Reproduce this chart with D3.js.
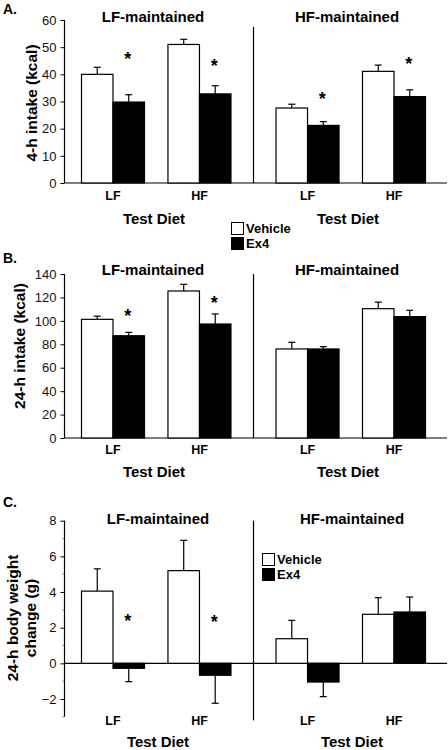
<!DOCTYPE html>
<html>
<head>
<meta charset="utf-8">
<script src="https://cdn.jsdelivr.net/npm/d3@7"></script>
<style>
  html, body { margin: 0; padding: 0; background: #fff; }
  svg { display: block; font-family: "Liberation Sans", Arial, sans-serif; }
</style>
</head>
<body>
<svg id="chart" width="448" height="750"></svg>
<script>
// ---------------- DATA ----------------
const maintenanceGroups = ["LF-maintained", "HF-maintained"];
const testDiets = ["LF", "HF", "LF", "HF"];           // test diet under each group
const seriesNames = ["Vehicle", "Ex4"];

// Panel A: 4-h intake (kcal)
const intake4hVehicle    = [40.0, 51.0, 27.6, 41.1];
const intake4hVehicleErr = [2.6, 1.9, 1.4, 2.3];
const intake4hEx4        = [29.8, 32.8, 21.2, 31.8];
const intake4hEx4Err     = [2.7, 3.0, 1.4, 2.5];
const intake4hStar       = [47.0, 44.5, 32.4, 45.3];   // asterisk level (null = none)
const intake4hTicks      = [0, 10, 20, 30, 40, 50, 60];

// Panel B: 24-h intake (kcal)
const intake24hVehicle    = [101.3, 125.5, 76.0, 110.4];
const intake24hVehicleErr = [2.7, 5.7, 5.7, 5.6];
const intake24hEx4        = [87.3, 97.3, 76.0, 103.6];
const intake24hEx4Err     = [2.9, 8.6, 2.0, 5.4];
const intake24hStar       = [107.8, 119.0, null, null];
const intake24hTicks      = [0, 20, 40, 60, 80, 100, 120, 140];

// Panel C: 24-h body weight change (g)
const bwVehicle    = [4.05, 5.2, 1.38, 2.75];
const bwVehicleErr = [1.25, 1.7, 1.03, 0.93];
const bwEx4        = [-0.28, -0.67, -1.05, 2.88];
const bwEx4Err     = [0.75, 1.57, 0.82, 0.84];
const bwStar       = [2.6, 2.55, null, null];
const bwTicks      = [-2, 0, 2, 4, 6, 8];
const bwMinorTicks = [-3, -1, 1, 3, 5, 7];

// ---------------- LAYOUT ----------------
const svg = d3.select("#chart");
const FONT_BOLD = 700;
// slot positions of the four test-diet groups (a gap separates the maintenance groups)
const slots = [0, 1, 2.25, 3.25];
const dividerSlot = 1.625;
const x = d3.scaleLinear().domain([0, 3.25]).range([113, 394]);
const barW = 31.5;
const axisX = 64.5;
const rightEdge = 447;

function drawPanel(p) {
  const g = svg.append("g");
  const y = d3.scaleLinear().domain(p.domain).range(p.range);

  // y axis
  const axis = d3.axisLeft(y).tickValues(p.ticks).tickSize(4).tickPadding(4).tickFormat(d3.format("d"));
  const ag = g.append("g").attr("transform", `translate(${axisX},0)`).call(axis);
  ag.select(".domain").attr("d", `M-0,${y(p.domain[1])}V${y(p.domain[0])}`).attr("stroke", "#000").attr("stroke-width", 1.2);
  ag.selectAll(".tick line").attr("stroke", "#000");
  ag.selectAll(".tick text").attr("font-size", 13).attr("fill", "#111").attr("font-family", "'Liberation Sans', Arial, sans-serif");
  if (p.minor) {
    g.append("g").selectAll("line").data(p.minor).join("line")
      .attr("x1", axisX - 2).attr("x2", axisX)
      .attr("y1", d => y(d)).attr("y2", d => y(d))
      .attr("stroke", "#666").attr("stroke-width", 0.8);
  }

  // baseline (zero line)
  g.append("line").attr("x1", axisX).attr("x2", rightEdge)
    .attr("y1", y(0)).attr("y2", y(0)).attr("stroke", "#000").attr("stroke-width", 1.2);

  // divider
  g.append("line").attr("x1", x(dividerSlot)).attr("x2", x(dividerSlot))
    .attr("y1", y(p.dividerTop)).attr("y2", y(p.dividerBottom))
    .attr("stroke", "#000").attr("stroke-width", 1.2);

  const rows = slots.map((s, i) => ({
    slot: s, diet: testDiets[i],
    v: p.veh[i], ve: p.vehErr[i], e: p.ex4[i], ee: p.ex4Err[i], star: p.star[i]
  }));

  const bars = [];
  rows.forEach(r => {
    bars.push({ x0: x(r.slot) - barW, val: r.v, err: r.ve, fill: "#fff" });
    bars.push({ x0: x(r.slot), val: r.e, err: r.ee, fill: "#000" });
  });

  // error bars (drawn away from zero)
  const eg = g.append("g");
  bars.forEach(b => {
    const cx = b.x0 + barW / 2;
    const end = b.val >= 0 ? b.val + b.err : b.val - b.err;
    eg.append("line").attr("x1", cx).attr("x2", cx).attr("y1", y(b.val)).attr("y2", y(end))
      .attr("stroke", "#000").attr("stroke-width", 1.2);
    eg.append("line").attr("x1", cx - 3.5).attr("x2", cx + 3.5).attr("y1", y(end)).attr("y2", y(end))
      .attr("stroke", "#000").attr("stroke-width", 1.2);
  });

  g.append("g").selectAll("rect").data(bars).join("rect")
    .attr("x", d => d.x0)
    .attr("y", d => y(Math.max(0, d.val)))
    .attr("width", barW)
    .attr("height", d => Math.abs(y(d.val) - y(0)))
    .attr("fill", d => d.fill)
    .attr("stroke", "#000").attr("stroke-width", 1.2);

  // asterisks
  g.append("g").selectAll("text").data(rows.filter(r => r.star != null)).join("text")
    .attr("x", d => x(d.slot) + barW / 2 - 1)
    .attr("y", d => y(d.star) + 10)
    .attr("text-anchor", "middle").attr("font-size", 18).attr("font-weight", FONT_BOLD)
    .text("*");

  // x category labels
  g.append("g").selectAll("text").data(rows).join("text")
    .attr("x", d => x(d.slot)).attr("y", p.catY)
    .attr("text-anchor", "middle").attr("font-size", 12.5).attr("font-weight", FONT_BOLD)
    .text(d => d.diet);

  // group titles and "Test Diet"
  maintenanceGroups.forEach((name, i) => {
    const cx = p.titleX[i];
    g.append("text").attr("x", cx).attr("y", p.titleY).attr("text-anchor", "middle")
      .attr("font-size", 15).attr("font-weight", FONT_BOLD).text(name);
    g.append("text").attr("x", p.testX[i]).attr("y", p.testY).attr("text-anchor", "middle")
      .attr("font-size", 15).attr("font-weight", FONT_BOLD).text("Test Diet");
  });

  // panel letter
  g.append("text").attr("x", 3).attr("y", p.letterY)
    .attr("font-size", 14).attr("font-weight", FONT_BOLD).text(p.letter);

  // y-axis title
  p.yTitle.forEach((line, k) => {
    g.append("text")
      .attr("transform", `translate(${p.yTitleX[k]},${p.yTitleY}) rotate(-90)`)
      .attr("text-anchor", "middle").attr("font-size", 15.5).attr("font-weight", FONT_BOLD)
      .text(line);
  });

  // legend
  if (p.legend) {
    const lg = g.append("g").attr("transform", `translate(${p.legend[0]},${p.legend[1]})`);
    seriesNames.forEach((s, i) => {
      lg.append("rect").attr("x", 0.5).attr("y", i * 15 + 0.5).attr("width", 12).attr("height", 12)
        .attr("fill", i === 0 ? "#fff" : "#000").attr("stroke", "#000").attr("stroke-width", 1);
      lg.append("text").attr("x", 15).attr("y", i * 15 + 11)
        .attr("font-size", 13).attr("font-weight", FONT_BOLD).text(s);
    });
  }
}

drawPanel({
  letter: "A.", letterY: 14,
  domain: [0, 60], range: [183, 20], ticks: intake4hTicks,
  veh: intake4hVehicle, vehErr: intake4hVehicleErr, ex4: intake4hEx4, ex4Err: intake4hEx4Err, star: intake4hStar,
  dividerTop: 57.5, dividerBottom: 0,
  titleX: [153, 347], titleY: 22,
  catY: 200, testX: [154, 348], testY: 224,
  yTitle: ["4-h intake (kcal)"], yTitleX: [37], yTitleY: 103,
  legend: [231, 222]
});

drawPanel({
  letter: "B.", letterY: 263,
  domain: [0, 140], range: [438, 274], ticks: intake24hTicks,
  veh: intake24hVehicle, vehErr: intake24hVehicleErr, ex4: intake24hEx4, ex4Err: intake24hEx4Err, star: intake24hStar,
  dividerTop: 140, dividerBottom: 0,
  titleX: [153, 347], titleY: 275,
  catY: 454, testX: [154, 348], testY: 477,
  yTitle: ["24-h intake (kcal)"], yTitleX: [25], yTitleY: 346
});

drawPanel({
  letter: "C.", letterY: 507,
  domain: [-3, 8], range: [716.8, 520.7], ticks: bwTicks, minor: bwMinorTicks,
  veh: bwVehicle, vehErr: bwVehicleErr, ex4: bwEx4, ex4Err: bwEx4Err, star: bwStar,
  dividerTop: 8, dividerBottom: -3.2,
  titleX: [158, 352], titleY: 524,
  catY: 725, testX: [158, 352], testY: 747,
  yTitle: ["24-h body weight", "change (g)"], yTitleX: [18, 36], yTitleY: 618,
  legend: [262, 553]
});
</script>
</body>
</html>
